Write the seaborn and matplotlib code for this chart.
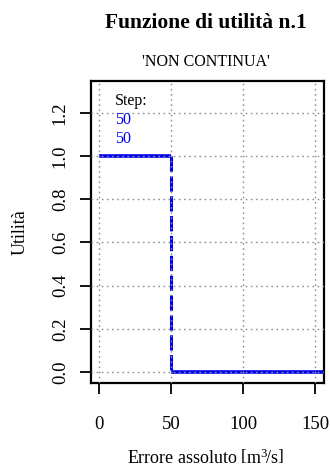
import matplotlib
matplotlib.use("Agg")
import matplotlib.pyplot as plt
import seaborn as sns
import pandas as pd

# Step utility function: level held on each interval of absolute error
seg_start = [0, 50]
seg_end = [50, 155]
seg_level = [1.0, 0.0]
step_at = [50]
step_labels = ["50", "50"]

x_ticks = [0, 50, 100, 150]
y_ticks = [0.0, 0.2, 0.4, 0.6, 0.8, 1.0, 1.2]

sns.set_style("white")
plt.rcParams["font.family"] = ["Liberation Serif", "DejaVu Serif"]
plt.rcParams["mathtext.fontset"] = "custom"
plt.rcParams["mathtext.rm"] = "Liberation Serif"
plt.rcParams["mathtext.it"] = "Liberation Serif:italic"
plt.rcParams["text.color"] = "black"
plt.rcParams["xtick.color"] = "black"
plt.rcParams["ytick.color"] = "black"

fig = plt.figure(figsize=(3.30, 4.74), dpi=100)
ax = fig.add_axes([91 / 330, 1 - 383 / 474, 233 / 330, 302 / 474])

blue = "#0000ee"
for x0, x1, lv in zip(seg_start, seg_end, seg_level):
    seg = pd.DataFrame({"x": [x0, x1], "y": [lv, lv]})
    sns.lineplot(data=seg, x="x", y="y", ax=ax, color=blue, lw=2.6,
                 solid_capstyle="butt", zorder=2)

# vertical jump drawn dashed
for xs in step_at:
    ax.plot([xs, xs], [seg_level[0], seg_level[1]], color=blue, lw=2.2,
            linestyle=(0, (5, 1.5)), zorder=2)

ax.set_xlim(-5.5, 156)
ax.set_ylim(-0.051, 1.347)
ax.set_xticks(x_ticks)
ax.set_yticks(y_ticks)
ax.set_xticklabels([str(v) for v in x_ticks], fontsize=13.5)
ax.set_yticklabels([f"{v:.1f}" for v in y_ticks], fontsize=13.5,
                   rotation=90, va="center")

# dotted grid drawn over the curve
ax.set_axisbelow(False)
ax.grid(True, color="#909090", linestyle=(0, (1.2, 2.5)), lw=1.0, zorder=3)

for s in ax.spines.values():
    s.set_linewidth(1.6)
    s.set_color("black")
ax.tick_params(axis="x", direction="out", length=8, width=1.3, pad=16,
               bottom=True)
ax.tick_params(axis="y", direction="out", length=8, width=1.3, pad=8,
               left=True)
ax.set_xlabel("")
ax.set_ylabel("")

ax.text(11, 1.255, "Step:", fontsize=11.5, color="black", va="center")
ax.text(11, 1.165, step_labels[0], fontsize=11.5, color=blue, va="center")
ax.text(11, 1.077, step_labels[1], fontsize=11.5, color=blue, va="center")

fig.text(206 / 330, 1 - 23 / 474, "Funzione di utilità n.1", fontsize=15.5,
         fontweight="bold", ha="center", va="center")
fig.text(206 / 330, 1 - 62 / 474, "'NON CONTINUA'", fontsize=11.5,
         ha="center", va="center")
fig.text(20 / 330, 1 - 232 / 474, "Utilità", fontsize=13, rotation=90,
         ha="center", va="center")
fig.text(206 / 330, 1 - 458 / 474,
         r"Errore assoluto $\left[\mathrm{m}^{3}\!/\mathrm{s}\right]$",
         fontsize=13, ha="center", va="center")

fig.savefig("out.png", dpi=100)
